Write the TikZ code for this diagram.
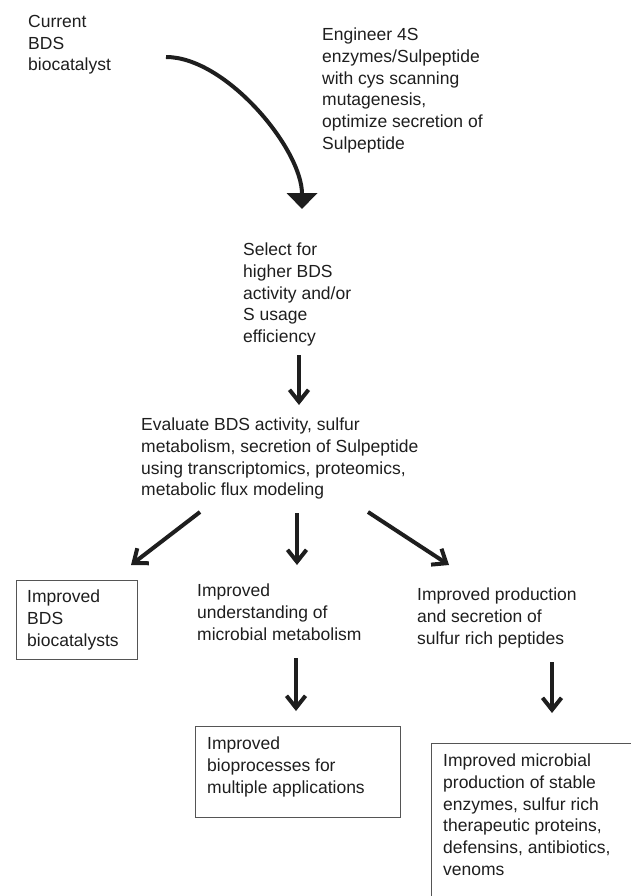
\documentclass[tikz,border=0pt]{standalone}
\usepackage{fontspec}
\setmainfont{Liberation Sans}
\usetikzlibrary{arrows.meta}
\definecolor{inkc}{HTML}{1E1E1E}
\definecolor{framec}{HTML}{555555}
\begin{document}
\begin{tikzpicture}[x=1pt,y=-1pt,
  txt/.style={anchor=north west, inner sep=0pt, align=left, text=inkc,
    font=\fontsize{17.5}{21.7}\selectfont},
  frame/.style={draw=framec, line width=1.2pt, anchor=north west, inner sep=0pt},
  arr/.style={draw=inkc, line width=4pt,
    -{Straight Barb[length=12pt,width=19pt,line width=4pt]}},
  curvarr/.style={draw=inkc, line width=4pt, -{Triangle[length=16pt,width=30pt]}}]
\useasboundingbox (0,0) rectangle (631,896);
\clip (0,0) rectangle (631,896);

% texts
\node[txt] (cur) at (28,15) {Current\\BDS\\biocatalyst};
\node[txt] (eng) at (322,28) {Engineer 4S\\enzymes/Sulpeptide\\with cys scanning\\mutagenesis,\\optimize secretion of\\Sulpeptide};
\node[txt] (sel) at (243,243) {Select for\\higher BDS\\activity and/or\\S usage\\efficiency};
\node[txt] (eva) at (141,418) {Evaluate BDS activity, sulfur\\metabolism, secretion of Sulpeptide\\using transcriptomics, proteomics,\\metabolic flux modeling};

% boxes and result texts
\node[frame, minimum width=121, minimum height=79] (f1) at (16,580) {};
\node[txt] (r1) at (27,590) {Improved\\BDS\\biocatalysts};
\node[txt] (r2) at (197,584) {Improved\\understanding of\\microbial metabolism};
\node[txt] (r3) at (417,588) {Improved production\\and secretion of\\sulfur rich peptides};
\node[frame, minimum width=205, minimum height=91] (f2) at (195,726) {};
\node[txt] (r4) at (207,737) {Improved\\bioprocesses for\\multiple applications};
\node[frame, minimum width=230, minimum height=180] (f3) at (431,743) {};
\node[txt] (r5) at (443,754) {Improved microbial\\production of stable\\enzymes, sulfur rich\\therapeutic proteins,\\defensins, antibiotics,\\venoms};

% connector end points
\coordinate (c0s) at (166,57);
\coordinate (c0e) at (302,209);
\coordinate (c1s) at (299,355);
\coordinate (c1e) at (299,405);
\coordinate (c2s) at (200,512);
\coordinate (c2e) at (131,565);
\coordinate (c3s) at (297,513);
\coordinate (c3e) at (297,565);
\coordinate (c4s) at (368,512);
\coordinate (c4e) at (449,565);
\coordinate (c5s) at (296,658);
\coordinate (c5e) at (296,711);
\coordinate (c6s) at (552,662);
\coordinate (c6e) at (552,713);

% connectors
\draw[curvarr] (c0s) .. controls (226,57) and (302,149) .. (c0e);
\draw[arr] (c1s) -- (c1e);
\draw[arr] (c2s) -- (c2e);
\draw[arr] (c3s) -- (c3e);
\draw[arr] (c4s) -- (c4e);
\draw[arr] (c5s) -- (c5e);
\draw[arr] (c6s) -- (c6e);
\end{tikzpicture}
\end{document}
